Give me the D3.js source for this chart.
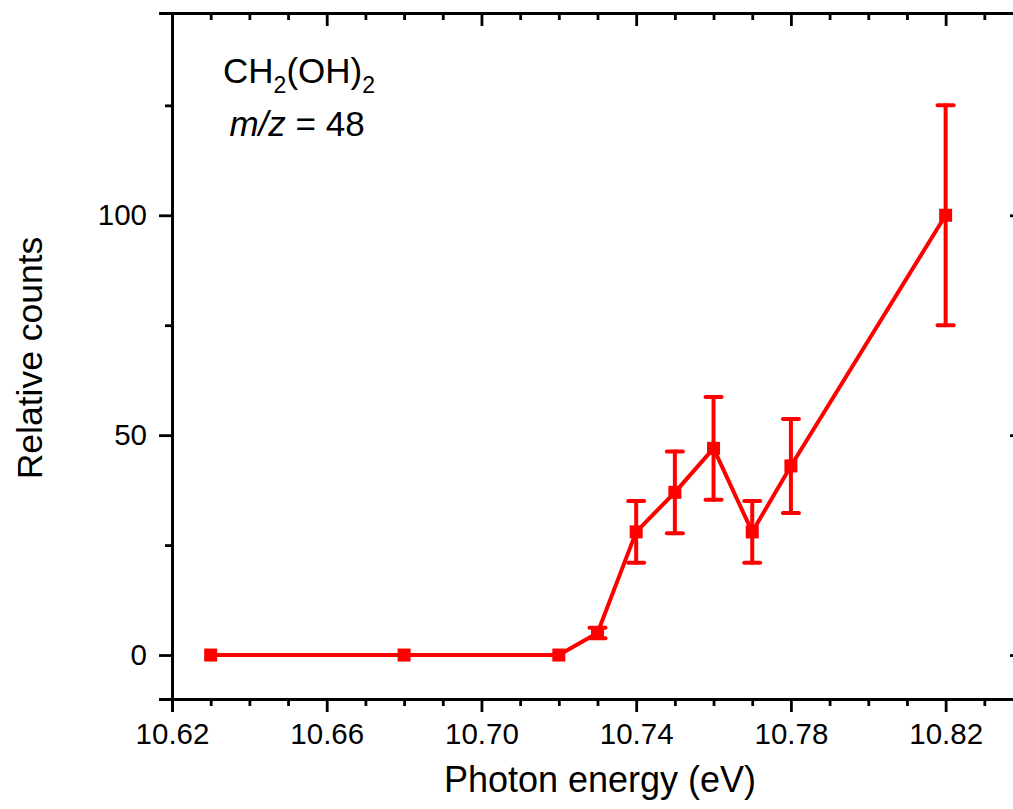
<!DOCTYPE html>
<html>
<head>
<meta charset="utf-8">
<script src="https://cdn.jsdelivr.net/npm/d3@7"></script>
<style>
  body { margin: 0; background: #fff; }
  svg { display: block; overflow: hidden; }
  text { font-family: "Liberation Sans", Arial, sans-serif; fill: #000; }
</style>
</head>
<body>
<div class="chart"></div>
<script>
// data
var energy = [10.63, 10.68, 10.72, 10.73, 10.74, 10.75, 10.76, 10.77, 10.78, 10.82];
var counts = [0, 0, 0, 5, 28, 37, 47, 28, 43, 100];
var errors = [0, 0, 0, 1.2, 7, 9.3, 11.7, 7, 10.7, 25];

var xMajor = [10.62, 10.66, 10.70, 10.74, 10.78, 10.82];
var xMinor = [10.63, 10.64, 10.65, 10.67, 10.68, 10.69, 10.71, 10.72, 10.73,
              10.75, 10.76, 10.77, 10.79, 10.80, 10.81, 10.83];
var yMajor = [0, 50, 100];
var yMinor = [25, 75, 125];

var svgWidth = 1013;
var svgHeight = 809;

var margin = { top: 13, right: -10, bottom: 110, left: 172 };
var width = svgWidth - margin.left - margin.right;
var height = svgHeight - margin.top - margin.bottom;

var svg = d3.select(".chart")
  .append("svg")
  .attr("width", svgWidth)
  .attr("height", svgHeight);

var chartGroup = svg.append("g")
  .attr("transform", `translate(${margin.left}, ${margin.top})`);

var points = energy.map(function(e, i) {
  return { x: e, y: counts[i], err: errors[i] };
});

var xScale = d3.scaleLinear().domain([10.62, 10.84]).range([0, width]);
var yScale = d3.scaleLinear().domain([-10, 146]).range([height, 0]);

// axes: major then minor
function styleAxis(g) {
  g.select(".domain").attr("stroke", "#000").attr("stroke-width", 2.8);
  g.selectAll(".tick line").attr("stroke", "#000").attr("stroke-width", 2.8);
  g.selectAll(".tick text").style("font-size", "29.5px").attr("fill", "#000");
}

chartGroup.append("g")
  .attr("transform", `translate(0, ${height})`)
  .call(d3.axisBottom(xScale).tickValues(xMajor).tickSize(13).tickPadding(11)
    .tickFormat(d3.format(".2f")))
  .call(styleAxis);
chartGroup.append("g")
  .attr("transform", `translate(0, ${height})`)
  .call(d3.axisBottom(xScale).tickValues(xMinor).tickSize(7).tickFormat(""))
  .call(styleAxis);

chartGroup.append("g")
  .call(d3.axisTop(xScale).tickValues(xMajor).tickSize(-13).tickFormat(""))
  .call(styleAxis);
chartGroup.append("g")
  .call(d3.axisTop(xScale).tickValues(xMinor).tickSize(-7).tickFormat(""))
  .call(styleAxis);

chartGroup.append("g")
  .call(d3.axisLeft(yScale).tickValues(yMajor).tickSize(13).tickPadding(12))
  .call(styleAxis);
chartGroup.append("g")
  .call(d3.axisLeft(yScale).tickValues(yMinor).tickSize(7).tickFormat(""))
  .call(styleAxis);

chartGroup.append("g")
  .attr("transform", `translate(${width}, 0)`)
  .call(d3.axisRight(yScale).tickValues(yMajor).tickSize(-13).tickFormat(""))
  .call(styleAxis);
chartGroup.append("g")
  .attr("transform", `translate(${width}, 0)`)
  .call(d3.axisRight(yScale).tickValues(yMinor).tickSize(-7).tickFormat(""))
  .call(styleAxis);

// error bars
var errGroup = chartGroup.append("g")
  .attr("stroke", "#ff0000")
  .attr("stroke-width", 4)
  .attr("stroke-linecap", "round");

var withErr = points.filter(d => d.err > 0);

errGroup.selectAll("line.bar")
  .data(withErr)
  .enter()
  .append("line")
  .attr("x1", d => xScale(d.x))
  .attr("x2", d => xScale(d.x))
  .attr("y1", d => yScale(d.y - d.err))
  .attr("y2", d => yScale(d.y + d.err));

errGroup.selectAll("line.capTop")
  .data(withErr)
  .enter()
  .append("line")
  .attr("x1", d => xScale(d.x) - 8)
  .attr("x2", d => xScale(d.x) + 8)
  .attr("y1", d => yScale(d.y + d.err))
  .attr("y2", d => yScale(d.y + d.err));

errGroup.selectAll("line.capBottom")
  .data(withErr)
  .enter()
  .append("line")
  .attr("x1", d => xScale(d.x) - 8)
  .attr("x2", d => xScale(d.x) + 8)
  .attr("y1", d => yScale(d.y - d.err))
  .attr("y2", d => yScale(d.y - d.err));

// line
var line = d3.line()
  .x(d => xScale(d.x))
  .y(d => yScale(d.y));

chartGroup.append("path")
  .datum(points)
  .attr("d", line)
  .attr("fill", "none")
  .attr("stroke", "#ff0000")
  .attr("stroke-width", 4)
  .attr("stroke-linejoin", "round");

// square markers
chartGroup.selectAll("rect.marker")
  .data(points)
  .enter()
  .append("rect")
  .attr("x", d => xScale(d.x) - 6.5)
  .attr("y", d => yScale(d.y) - 6.5)
  .attr("width", 13)
  .attr("height", 13)
  .attr("fill", "#ff0000");

// annotation
var label1 = chartGroup.append("text")
  .attr("x", 127)
  .attr("y", 70)
  .attr("text-anchor", "middle")
  .style("font-size", "35px");
label1.append("tspan").text("CH");
label1.append("tspan").attr("dy", 10).style("font-size", "23px").text("2");
label1.append("tspan").attr("dy", -10).text("(OH)");
label1.append("tspan").attr("dy", 10).style("font-size", "23px").text("2");

var label2 = chartGroup.append("text")
  .attr("x", 125)
  .attr("y", 123)
  .attr("text-anchor", "middle")
  .style("font-size", "35px");
label2.append("tspan").style("font-style", "italic").text("m/z");
label2.append("tspan").text(" = 48");

// axis titles
svg.append("text")
  .attr("x", 600)
  .attr("y", 792)
  .attr("text-anchor", "middle")
  .style("font-size", "36px")
  .text("Photon energy (eV)");

svg.append("text")
  .attr("transform", "rotate(-90)")
  .attr("x", -358)
  .attr("y", 42)
  .attr("text-anchor", "middle")
  .style("font-size", "35.5px")
  .text("Relative counts");
</script>
</body>
</html>
